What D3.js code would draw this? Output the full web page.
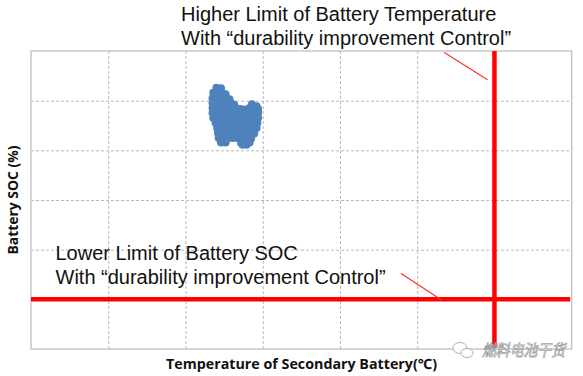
<!DOCTYPE html>
<html>
<head>
<meta charset="utf-8">
<script src="https://d3js.org/d3.v7.min.js"></script>
<style>
  body { margin: 0; background: #fff; }
  svg { display: block; }
</style>
</head>
<body>
<div id="chart"></div>
<script>
// grid positions (no tick labels are printed in the original)
const tempTicks = [-10, 0, 10, 20, 30, 40, 50, 60];
const socTicks = [20, 30, 40, 50, 60, 70, 80];

// control limits
const tempLimit = 50;
const socLimit = 30;

// measured points: [battery temperature, SOC]
const samples = [
    [14.0, 72.6], [14.6, 72.5],
    [13.6, 71.6], [14.2, 71.5], [14.8, 71.5], [15.2, 71.3],
    [13.5, 70.5], [14.1, 70.5], [14.7, 70.5], [15.3, 70.5], [15.7, 70.3],
    [13.5, 69.5], [14.1, 69.5], [14.7, 69.5], [15.3, 69.5], [15.9, 69.5], [16.3, 69.2],
    [18.6, 69.3], [19.2, 68.9],
    [13.5, 68.5], [14.1, 68.5], [14.7, 68.5], [15.3, 68.5], [15.9, 68.5], [16.5, 68.5],
    [17.1, 68.3], [17.7, 68.2], [18.3, 68.5], [18.9, 68.5], [19.4, 68.3],
    [13.5, 67.5], [14.1, 67.5], [14.7, 67.5], [15.3, 67.5], [15.9, 67.5], [16.5, 67.5],
    [17.1, 67.5], [17.7, 67.5], [18.3, 67.5], [18.9, 67.5], [19.4, 67.5],
    [13.6, 66.5], [14.1, 66.5], [14.7, 66.5], [15.3, 66.5], [15.9, 66.5], [16.5, 66.5],
    [17.1, 66.5], [17.7, 66.5], [18.3, 66.5], [18.9, 66.5], [19.4, 66.5],
    [13.9, 65.5], [14.5, 65.5], [15.1, 65.5], [15.7, 65.5], [16.3, 65.5], [16.9, 65.5],
    [17.5, 65.5], [18.1, 65.5], [18.7, 65.5], [19.3, 65.5],
    [14.1, 64.5], [14.7, 64.5], [15.3, 64.5], [15.9, 64.5], [16.5, 64.5], [17.1, 64.5],
    [17.7, 64.5], [18.3, 64.5], [18.9, 64.5], [19.2, 64.5],
    [14.2, 63.5], [14.8, 63.5], [15.4, 63.5], [16.0, 63.5], [16.6, 63.5], [17.2, 63.5],
    [17.8, 63.5], [18.4, 63.5], [18.9, 63.4],
    [14.3, 62.5], [14.9, 62.5], [15.5, 62.5], [16.1, 62.5], [16.7, 62.5], [17.3, 62.5],
    [17.9, 62.5], [18.5, 62.4],
    [14.6, 61.6], [15.2, 61.6], [17.2, 61.5], [17.8, 61.5], [18.3, 61.6],
    [17.4, 61.1], [17.9, 61.1]
];

// annotation leader lines, in data units: [t1, s1, t2, s2]
const tempNote = [43.5, 79.7, 49.1, 74.2];
const socNote = [37.9, 35.2, 43.1, 29.9];

const W = 583, H = 376;
const margin = {top: 51, right: 11.3, bottom: 27, left: 31};
const plotW = W - margin.left - margin.right;
const plotH = H - margin.top - margin.bottom;

const svg = d3.select("#chart")
    .append("svg")
    .attr("width", W)
    .attr("height", H);

const x = d3.scaleLinear()
    .domain(d3.extent(tempTicks))
    .range([margin.left, margin.left + plotW]);
const y = d3.scaleLinear()
    .domain(d3.extent(socTicks))
    .range([margin.top + plotH, margin.top]);

// dashed grid
const gridColor = "#b8b8b8";
svg.append("g")
    .attr("class", "grid-x")
    .attr("transform", `translate(0,${margin.top + plotH})`)
    .call(d3.axisBottom(x).tickValues(tempTicks.slice(1, -1)).tickSize(-plotH).tickFormat(""))
    .call(g => g.select(".domain").remove());
svg.append("g")
    .attr("class", "grid-y")
    .attr("transform", `translate(${margin.left},0)`)
    .call(d3.axisLeft(y).tickValues(socTicks.slice(1, -1)).tickSize(-plotW).tickFormat(""))
    .call(g => g.select(".domain").remove());
svg.selectAll(".grid-x line, .grid-y line")
    .attr("stroke", gridColor)
    .attr("stroke-width", 1)
    .attr("stroke-dasharray", "3,2");

// plot frame
svg.append("rect")
    .attr("x", margin.left)
    .attr("y", margin.top)
    .attr("width", plotW)
    .attr("height", plotH)
    .attr("fill", "none")
    .attr("stroke", "#bfbfbf")
    .attr("stroke-width", 1.3);

// scatter
svg.append("g")
    .selectAll("circle")
    .data(samples)
    .enter()
    .append("circle")
    .attr("cx", d => x(d[0]))
    .attr("cy", d => y(d[1]))
    .attr("r", 4)
    .attr("fill", "#4f81bd");

// limit lines
svg.append("line")
    .attr("x1", x(tempTicks[0]))
    .attr("x2", x(tempTicks[tempTicks.length - 1]) - 1.5)
    .attr("y1", y(socLimit))
    .attr("y2", y(socLimit))
    .attr("stroke", "#ff0000")
    .attr("stroke-width", 4.5);
svg.append("line")
    .attr("x1", x(tempLimit))
    .attr("x2", x(tempLimit))
    .attr("y1", y(socTicks[socTicks.length - 1]))
    .attr("y2", y(socTicks[0]) - 1)
    .attr("stroke", "#ff0000")
    .attr("stroke-width", 4.5);

// leader lines
[tempNote, socNote].forEach(n => {
    svg.append("line")
        .attr("x1", x(n[0])).attr("y1", y(n[1]))
        .attr("x2", x(n[2])).attr("y2", y(n[3]))
        .attr("stroke", "#ff3030")
        .attr("stroke-width", 1.2);
});

// annotation texts
const noteFont = "'Liberation Sans', Arial, sans-serif";
function note(xp, yp, lines) {
    const t = svg.append("text")
        .attr("font-family", noteFont)
        .attr("font-size", 20)
        .attr("fill", "#111");
    lines.forEach((s, i) => {
        t.append("tspan").attr("x", xp).attr("y", yp + i * 24).text(s);
    });
}
note(181, 20.7, ["Higher Limit of Battery Temperature", "With \u201cdurability improvement Control\u201d"]);
note(55.5, 259.5, ["Lower Limit of Battery SOC", "With \u201cdurability improvement Control\u201d"]);

// axis titles
svg.append("text")
    .attr("x", 166)
    .attr("y", 369)
    .attr("font-family", "'Open Sans', 'Noto Sans', sans-serif")
    .attr("font-weight", "bold")
    .attr("font-size", 14)
    .attr("fill", "#111")
    .attr("textLength", 271)
    .attr("lengthAdjust", "spacingAndGlyphs")
    .text("Temperature of Secondary  Battery(\u2103)");

svg.append("text")
    .attr("transform", `translate(17.5,${margin.top + plotH / 2}) rotate(-90)`)
    .attr("x", -54.5)
    .attr("font-family", "'Open Sans', 'Noto Sans', sans-serif")
    .attr("font-weight", "bold")
    .attr("font-size", 13.5)
    .attr("fill", "#111")
    .attr("textLength", 109)
    .attr("lengthAdjust", "spacingAndGlyphs")
    .text("Battery SOC (%)");

// watermark
const wm = svg.append("g").attr("opacity", 0.9);
wm.append("ellipse").attr("cx", 460).attr("cy", 348).attr("rx", 7).attr("ry", 5.5)
    .attr("fill", "#fff").attr("stroke", "#a8a8a8").attr("stroke-width", 1);
wm.append("ellipse").attr("cx", 467).attr("cy", 353).attr("rx", 6).attr("ry", 4.5)
    .attr("fill", "#fff").attr("stroke", "#a8a8a8").attr("stroke-width", 1);
wm.append("text")
    .attr("x", 482)
    .attr("y", 356)
    .attr("font-family", "'Noto Sans CJK SC', sans-serif")
    .attr("font-size", 16)
    .attr("font-style", "italic")
    .attr("fill", "#fff")
    .attr("stroke", "#9a9a9a")
    .attr("stroke-width", 0.8)
    .attr("textLength", 83)
    .attr("lengthAdjust", "spacingAndGlyphs")
    .text("燃料电池干货");
</script>
</body>
</html>
